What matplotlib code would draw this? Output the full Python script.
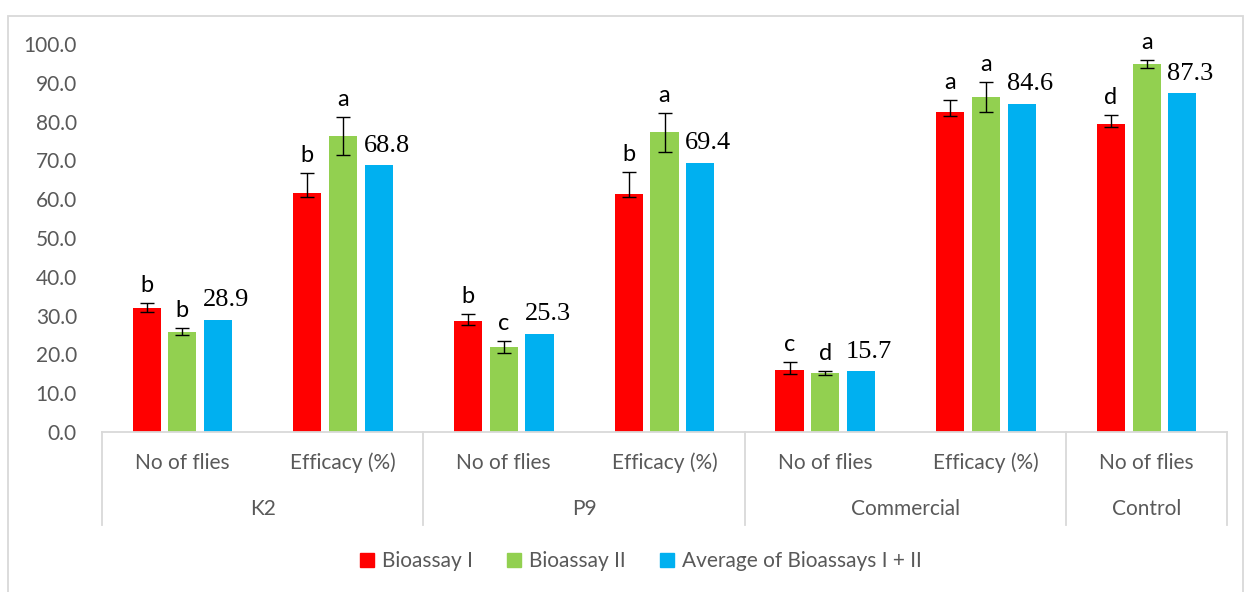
import numpy as np
import matplotlib.pyplot as plt
from matplotlib.patches import Rectangle
from matplotlib.lines import Line2D

# sub-categories along the x axis and the groups they belong to
categories = ['No of flies', 'Efficacy (%)', 'No of flies', 'Efficacy (%)',
              'No of flies', 'Efficacy (%)', 'No of flies']
groups = ['K2', 'P9', 'Commercial', 'Control']
group_sizes = [2, 2, 2, 1]

series_names = ['Bioassay I', 'Bioassay II', 'Average of Bioassays I + II']

# values
bioassay1 = [31.9, 61.5, 28.6, 61.3, 16.0, 82.5, 79.5]
bioassay2 = [25.8, 76.2, 21.9, 77.2, 15.3, 86.3, 94.8]
average = [28.9, 68.8, 25.3, 69.4, 15.7, 84.6, 87.3]

# error bars (Bioassay I ones are uneven)
b1_err_lo = [0.9, 0.9, 0.9, 0.8, 1.0, 1.0, 1.0]
b1_err_hi = [1.3, 5.3, 1.8, 5.8, 2.1, 3.1, 2.3]
b2_err = [0.9, 4.9, 1.5, 5.0, 0.5, 3.8, 1.0]

# significance letters
b1_letters = ['b', 'b', 'b', 'b', 'c', 'a', 'd']
b2_letters = ['b', 'a', 'c', 'a', 'd', 'a', 'a']

colors = ['#FF0000', '#92D050', '#00B0F0']
grey = '#595959'
line_grey = '#D9D9D9'

W, H = 1244, 592
fig = plt.figure(figsize=(W / 100, H / 100), dpi=100)

# chart area border
fig.patches.append(Rectangle((8 / W, -0.05), (1243 - 8) / W, 1 - 16 / H + 0.05,
                             transform=fig.transFigure, fill=False,
                             edgecolor=line_grey, lw=1.3))

ax = fig.add_axes([102 / W, 1 - 432 / H, (1227 - 102) / W, (432 - 44) / H])

x = np.arange(len(categories))
width = 0.175
step = 0.222

ax.bar(x - step, bioassay1, width, color=colors[0], label=series_names[0],
       yerr=[b1_err_lo, b1_err_hi], capsize=5,
       error_kw=dict(ecolor='black', elinewidth=1, capthick=1))
ax.bar(x, bioassay2, width, color=colors[1], label=series_names[1],
       yerr=b2_err, capsize=5,
       error_kw=dict(ecolor='black', elinewidth=1, capthick=1))
ax.bar(x + step, average, width, color=colors[2], label=series_names[2])

# letters above the error bars, value labels above the average bars
for i in range(len(x)):
    ax.text(x[i] - step, bioassay1[i] + b1_err_hi[i] + 1.8, b1_letters[i],
            ha='center', va='bottom', fontsize=17, family='Lato')
    ax.text(x[i], bioassay2[i] + b2_err[i] + 1.8, b2_letters[i],
            ha='center', va='bottom', fontsize=17, family='Lato')
    ax.text(x[i] + step + 0.05, average[i] + 2.2, '%.1f' % average[i],
            ha='center', va='bottom', fontsize=19, family='Liberation Serif')

ax.set_xlim(-0.5, len(x) - 0.5)
ax.set_ylim(0, 100)
ax.set_yticks(np.arange(0, 101, 10))
ax.set_yticklabels(['%.1f' % v for v in np.arange(0, 101, 10)],
                   family='Lato', fontsize=15, color=grey)
ax.tick_params(axis='y', length=0, pad=18)
ax.set_xticks([])

for s in ['left', 'top', 'right']:
    ax.spines[s].set_visible(False)
ax.spines['bottom'].set_color(line_grey)
ax.spines['bottom'].set_linewidth(1.3)

# multi-level category axis
trans = ax.get_xaxis_transform()
sep_bottom = -(525 - 432) / (432 - 44)
for i, lab in enumerate(categories):
    ax.text(x[i], -(463 - 432) / (432 - 44), lab, transform=trans,
            ha='center', va='center', fontsize=15, family='Lato', color=grey)

start = 0
edges = [-0.5]
for g, n in zip(groups, group_sizes):
    centre = start + (n - 1) / 2
    ax.text(centre, -(509 - 432) / (432 - 44), g, transform=trans,
            ha='center', va='center', fontsize=15, family='Lato', color=grey)
    start += n
    edges.append(start - 0.5)
for e in edges:
    ax.plot([e, e], [0, sep_bottom], transform=trans, color=line_grey,
            lw=1.3, clip_on=False)

handles = [Line2D([], [], marker='s', ls='none', markersize=10,
                  markerfacecolor=c, markeredgecolor=c) for c in colors]
fig.legend(handles, series_names, loc='center', ncol=3, frameon=False,
           bbox_to_anchor=(636 / W, 1 - 561 / H), handletextpad=-0.1,
           columnspacing=1.2, handlelength=1.6,
           prop={'family': 'Lato', 'size': 15}, labelcolor=grey)

fig.savefig('out.png', dpi=100)
